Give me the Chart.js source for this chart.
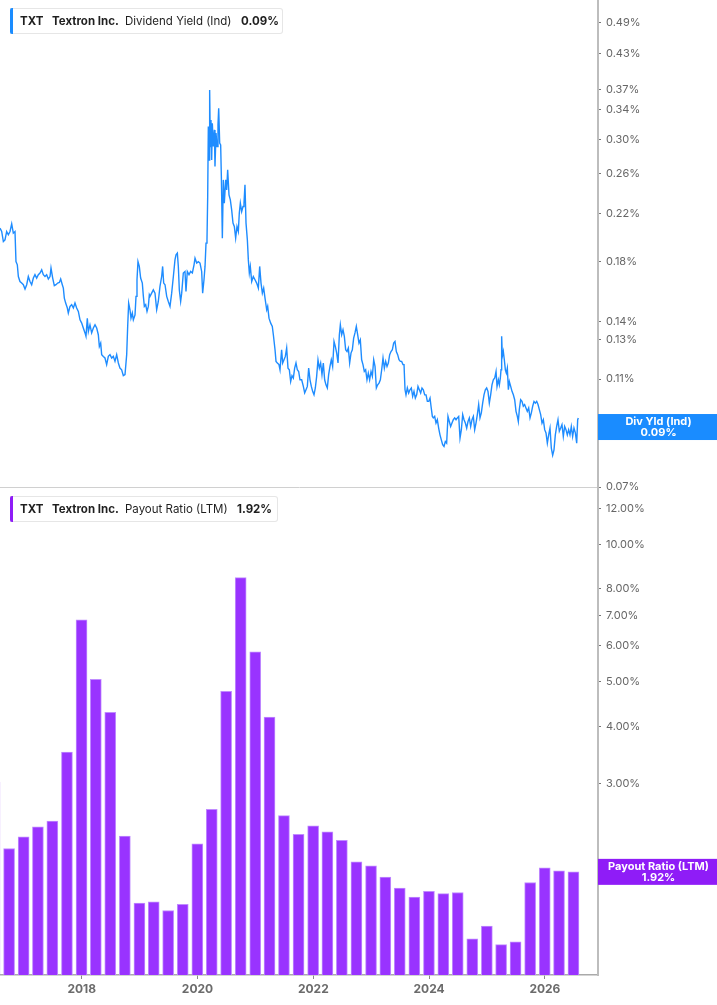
<!DOCTYPE html>
<html>
<head>
<meta charset="utf-8">
<script src="https://cdn.jsdelivr.net/npm/chart.js@4.4.1/dist/chart.umd.min.js"></script>
<style>
  body { margin: 0; background: #fff; width: 717px; height: 1005px; overflow: hidden; position: relative; font-family: Inter, 'Noto Sans', sans-serif; }
  #top { position: absolute; left: 0; top: 0; }
  #bottom { position: absolute; left: 0; top: 487px; }
  .legend { position: absolute; left: 10px; height: 24px; background: #fff; border: 1px solid #e6e6e6; border-left: none; border-radius: 0 3px 3px 0; font-size: 11.5px; color: #1f1f1f; }
  .legend .mark { position: absolute; left: 0; top: -1px; bottom: -1px; width: 3px; border-radius: 2px 0 0 2px; }
  .legend span { position: absolute; top: 5px; white-space: nowrap; line-height: 14px; }
  .legend b { font-weight: 700; }
</style>
</head>
<body>
<canvas id="top" width="717" height="490"></canvas>
<canvas id="bottom" width="717" height="518"></canvas>

<div class="legend" style="top:8px; width:272px;">
  <div class="mark" style="background:#1a8cff"></div>
  <span style="left:10px"><b>TXT</b></span>
  <span style="left:42px"><b>Textron Inc.</b></span>
  <span style="left:115px">Dividend Yield (Ind)</span>
  <span style="left:231px"><b>0.09%</b></span>
</div>
<div class="legend" style="top:496px; width:267px;">
  <div class="mark" style="background:#8f1cf7"></div>
  <span style="left:10px"><b>TXT</b></span>
  <span style="left:42px"><b>Textron Inc.</b></span>
  <span style="left:115px">Payout Ratio (LTM)</span>
  <span style="left:227px"><b>1.92%</b></span>
</div>

<script>
// x range shown (decimal years) and the year ticks
const X_MIN = 2016.589;
const X_MAX = 2026.917;
const yearTicks = [2018, 2020, 2022, 2024, 2026];

// dividend yield (%), dates as decimal years
const yieldDates = [
  2016.589,2016.618,2016.647,2016.675,2016.704,2016.733,2016.762,2016.791,2016.819,2016.848,
  2016.865,2016.888,2016.906,2016.934,2016.963,2016.992,2017.021,2017.050,2017.078,2017.107,
  2017.136,2017.165,2017.193,2017.222,2017.251,2017.280,2017.309,2017.337,2017.366,2017.395,
  2017.424,2017.453,2017.470,2017.499,2017.527,2017.556,2017.585,2017.614,2017.637,2017.665,
  2017.683,2017.700,2017.723,2017.752,2017.769,2017.798,2017.827,2017.856,2017.884,2017.913,
  2017.942,2017.971,2018.000,2018.028,2018.057,2018.074,2018.097,2018.115,2018.143,2018.172,
  2018.201,2018.230,2018.259,2018.287,2018.305,2018.328,2018.345,2018.374,2018.402,2018.431,
  2018.460,2018.489,2018.518,2018.546,2018.575,2018.604,2018.633,2018.661,2018.690,2018.719,
  2018.748,2018.777,2018.794,2018.811,2018.834,2018.851,2018.874,2018.892,2018.921,2018.938,
  2018.955,2018.972,2018.995,2019.018,2019.047,2019.065,2019.082,2019.105,2019.128,2019.151,
  2019.168,
  2019.180,2019.208,2019.237,2019.266,2019.295,2019.323,2019.352,2019.381,2019.398,2019.416,
  2019.439,2019.468,2019.496,2019.525,2019.554,2019.583,2019.611,2019.629,2019.652,2019.669,
  2019.686,2019.709,2019.727,2019.755,2019.784,2019.801,2019.824,2019.853,2019.882,2019.911,
  2019.940,2019.957,2019.986,2020.014,2020.043,2020.072,2020.089,2020.112,2020.130,2020.147,
  2020.164,2020.176,2020.187,2020.199,2020.210,2020.222,2020.233,2020.245,2020.256,2020.273,
  2020.291,2020.302,2020.320,2020.337,2020.354,2020.366,2020.383,2020.400,2020.412,2020.429,
  2020.446,2020.463,2020.487,2020.504,2020.521,2020.544,2020.567,2020.590,2020.613,2020.636,
  2020.659,2020.682,2020.705,2020.722,2020.740,2020.763,2020.786,2020.803,2020.820,2020.838,
  2020.861,2020.878,2020.895,2020.912,2020.936,2020.964,2020.993,2021.022,2021.051,2021.074,
  2021.097,2021.120,2021.143,2021.166,2021.195,2021.212,2021.235,
  2021.264,2021.292,2021.310,2021.339,2021.356,2021.379,2021.407,2021.425,2021.453,2021.471,
  2021.494,2021.517,2021.540,2021.563,2021.586,2021.609,2021.632,2021.655,2021.678,2021.701,
  2021.724,2021.747,2021.770,2021.799,2021.828,2021.851,2021.874,2021.897,2021.920,2021.943,
  2021.966,2021.989,2022.012,2022.035,2022.058,2022.081,2022.104,2022.127,2022.150,2022.173,
  2022.196,2022.219,2022.242,2022.265,2022.288,2022.311,2022.334,2022.358,2022.381,2022.404,
  2022.427,2022.450,2022.467,2022.490,2022.513,2022.536,2022.559,2022.582,2022.605,2022.628,
  2022.651,2022.674,2022.697,2022.720,2022.743,2022.766,2022.789,2022.812,2022.835,2022.858,
  2022.881,2022.904,2022.927,2022.950,2022.973,2022.997,2023.020,2023.043,2023.066,2023.089,
  2023.112,2023.135,2023.158,2023.181,2023.204,2023.227,2023.250,2023.273,2023.296,2023.319,
  2023.342,2023.365,2023.388,2023.411,2023.434,2023.457,2023.480,2023.503,2023.526,2023.549,
  2023.567,2023.584,2023.601,2023.624,2023.647,2023.670,2023.693,2023.716,2023.739,2023.762,
  2023.785,2023.808,2023.831,2023.854,2023.877,2023.900,2023.924,2023.947,2023.970,2023.993,2024.016,
  2024.033,2024.056,2024.073,2024.096,2024.119,2024.142,2024.165,2024.188,2024.211,2024.234,
  2024.257,2024.280,2024.303,2024.326,2024.349,2024.372,2024.395,2024.418,2024.442,2024.465,
  2024.488,2024.511,2024.534,2024.557,2024.580,2024.603,2024.626,2024.649,2024.672,2024.695,
  2024.718,2024.741,2024.764,2024.787,2024.810,2024.833,2024.856,2024.879,2024.902,2024.925,
  2024.948,2024.971,2024.994,2025.017,2025.040,2025.063,2025.086,2025.109,2025.133,2025.156,
  2025.173,2025.196,2025.213,2025.230,2025.242,2025.253,2025.265,2025.282,2025.299,2025.317,
  2025.334,2025.351,2025.369,2025.386,2025.409,2025.432,2025.455,2025.478,2025.501,2025.524,
  2025.541,2025.558,2025.581,2025.604,2025.627,2025.650,2025.673,2025.696,2025.720,2025.743,
  2025.766,2025.789,2025.812,2025.835,2025.858,2025.881,2025.904,2025.927,2025.950,2025.973,
  2025.996,2026.019,2026.042,2026.065,2026.088,2026.111,2026.134,2026.157,2026.180,2026.203,
  2026.226,2026.249,2026.272,2026.295,2026.318,2026.341,2026.364,2026.387,2026.410,2026.433,
  2026.456,2026.479,2026.502,2026.526,2026.549,2026.566,2026.577
];
const yieldValues = [
  0.2071,0.2042,0.1958,0.1972,0.2042,0.2014,0.2042,0.2109,0.2028,0.2042,
  0.1800,0.1776,0.1691,0.1656,0.1645,0.1634,0.1604,0.1634,0.1691,0.1656,
  0.1634,0.1680,0.1704,0.1680,0.1704,0.1716,0.1739,0.1704,0.1691,0.1704,
  0.1673,0.1691,0.1752,0.1680,0.1627,0.1634,0.1645,0.1649,0.1673,0.1634,
  0.1611,0.1545,0.1513,0.1482,0.1451,0.1492,0.1503,0.1482,0.1513,0.1482,
  0.1461,0.1410,0.1391,0.1363,0.1335,0.1316,0.1420,0.1343,0.1381,0.1335,
  0.1363,0.1381,0.1363,0.1325,0.1261,0.1279,0.1219,0.1210,0.1202,0.1169,
  0.1210,0.1219,0.1202,0.1210,0.1185,0.1219,0.1177,0.1152,0.1144,0.1116,
  0.1121,0.1219,0.1372,0.1513,0.1471,0.1420,0.1451,0.1410,0.1440,0.1556,
  0.1668,0.1800,0.1764,0.1680,0.1645,0.1556,0.1492,0.1503,0.1461,0.1492,
  0.1566,
  0.1556,0.1577,0.1599,0.1577,0.1471,0.1523,0.1622,0.1691,0.1764,0.1645,
  0.1634,0.1556,0.1523,0.1492,0.1577,0.1691,0.1813,0.1852,0.1865,0.1764,
  0.1599,0.1523,0.1577,0.1716,0.1727,0.1588,0.1727,0.1704,0.1727,0.1716,
  0.1776,0.1826,0.1789,0.1800,0.1789,0.1727,0.1577,0.1668,0.1764,0.1945,
  0.1972,0.2364,0.3170,0.2756,0.3695,0.2915,0.3259,0.2756,0.3215,0.2915,
  0.3126,0.2681,0.3084,0.2915,0.3193,0.3423,0.2957,0.2936,0.2571,0.1986,
  0.2535,0.2300,0.2535,0.2431,0.2644,0.2381,0.2331,0.2236,0.2115,0.2085,
  0.1986,0.2085,0.2042,0.2206,0.2300,0.2220,0.2267,0.2300,0.2483,0.2115,
  0.1972,0.1813,0.1716,0.1764,0.1656,0.1691,0.1668,0.1645,0.1611,0.1764,
  0.1645,0.1577,0.1611,0.1545,0.1471,0.1492,0.1420,
  0.1391,0.1372,0.1325,0.1244,0.1185,0.1177,0.1169,0.1144,0.1244,0.1177,
  0.1193,0.1210,0.1253,0.1152,0.1144,0.1089,0.1116,0.1105,0.1152,0.1177,
  0.1144,0.1136,0.1097,0.1097,0.1067,0.1038,0.1052,0.1067,0.1152,0.1097,
  0.1067,0.1045,0.1030,0.1060,0.1113,0.1193,0.1152,0.1177,0.1121,0.1177,
  0.1097,0.1074,0.1060,0.1121,0.1160,0.1193,0.1160,0.1288,0.1261,0.1227,
  0.1177,0.1325,0.1381,0.1325,0.1353,0.1316,0.1244,0.1235,0.1253,0.1177,
  0.1227,0.1244,0.1306,0.1335,0.1372,0.1325,0.1279,0.1297,0.1193,0.1169,
  0.1136,0.1144,0.1097,0.1128,0.1097,0.1136,0.1113,0.1193,0.1160,0.1060,
  0.1074,0.1082,0.1097,0.1144,0.1202,0.1152,0.1185,0.1160,0.1177,0.1219,
  0.1235,0.1244,0.1279,0.1288,0.1235,0.1219,0.1193,0.1185,0.1185,0.1169,
  0.1169,0.1052,0.1030,0.1060,0.1038,0.1052,0.1060,0.1023,0.1045,0.1016,
  0.1030,0.1067,0.1052,0.1038,0.1060,0.1052,0.1030,0.1030,0.1002,0.1002,0.1016,
  0.0982,0.0941,0.0935,0.0941,0.0915,0.0928,0.0896,0.0871,0.0853,0.0836,
  0.0830,0.0847,0.0841,0.0941,0.0921,0.0902,0.0915,0.0928,0.0935,0.0928,
  0.0935,0.0941,0.0859,0.0890,0.0948,0.0928,0.0915,0.0896,0.0921,0.0935,
  0.0902,0.0928,0.0941,0.0890,0.0915,0.0948,0.0989,0.0935,0.0955,0.0995,
  0.1030,0.1052,0.1060,0.1045,0.0995,0.1030,0.1074,0.1097,0.1105,0.1136,
  0.1067,0.1097,0.1074,0.1105,0.1144,0.1316,0.1210,0.1235,0.1193,0.1144,
  0.1128,0.1152,0.1052,0.1089,0.1067,0.1045,0.1030,0.1009,0.0961,0.0941,
  0.0921,0.0968,0.1009,0.1002,0.0982,0.0989,0.0975,0.0961,0.0975,0.0935,
  0.0955,0.0982,0.1002,0.0995,0.1002,0.0989,0.0968,0.0948,0.0915,0.0928,
  0.0890,0.0878,0.0841,0.0871,0.0896,0.0824,0.0800,0.0818,0.0871,0.0902,
  0.0928,0.0884,0.0896,0.0909,0.0865,0.0902,0.0890,0.0871,0.0890,0.0871,
  0.0902,0.0865,0.0896,0.0878,0.0841,0.0928,0.0935
];
const yieldTicks = [0.07, 0.09, 0.11, 0.13, 0.14, 0.18, 0.22, 0.26, 0.30, 0.34, 0.37, 0.43, 0.49];

// payout ratio (LTM, %), one bar per quarter end
const payoutDates = [
  '2016-06-30','2016-09-30','2016-12-31','2017-03-31','2017-06-30','2017-09-30','2017-12-31',
  '2018-03-31','2018-06-30','2018-09-30','2018-12-31','2019-03-31','2019-06-30','2019-09-30','2019-12-31',
  '2020-03-31','2020-06-30','2020-09-30','2020-12-31','2021-03-31','2021-06-30','2021-09-30','2021-12-31',
  '2022-03-31','2022-06-30','2022-09-30','2022-12-31','2023-03-31','2023-06-30','2023-09-30','2023-12-31',
  '2024-03-31','2024-06-30','2024-09-30','2024-12-31','2025-03-31','2025-06-30','2025-09-30','2025-12-31',
  '2026-03-31','2026-06-30'
];
const payoutValues = [
  3.02, 2.16, 2.29, 2.41, 2.48, 3.51, 6.84,
  5.07, 4.29, 2.30, 1.64, 1.65, 1.58, 1.63, 2.21,
  2.63, 4.77, 8.46, 5.82, 4.19, 2.55, 2.32, 2.42,
  2.35, 2.25, 2.02, 1.98, 1.87, 1.77, 1.69, 1.74,
  1.72, 1.73, 1.37, 1.46, 1.33, 1.35, 1.82, 1.96,
  1.93, 1.92
];
const payoutTicks = [3, 4, 5, 6, 7, 8, 10, 12];

function toYear(s) {
  const d = new Date(s + 'T00:00:00Z');
  const y = d.getUTCFullYear();
  const a = Date.UTC(y, 0, 1), b = Date.UTC(y + 1, 0, 1);
  return y + (d.getTime() - a) / (b - a);
}

const FONT = 'Inter, "Noto Sans", sans-serif';

// value tag on the right axis
const tagPlugin = {
  id: 'tag',
  afterDraw(chart, args, opts) {
    const ctx = chart.ctx, area = chart.chartArea;
    const y = chart.scales.y.getPixelForValue(opts.value);
    ctx.save();
    ctx.fillStyle = opts.color;
    ctx.fillRect(area.right, y - 13, chart.width - area.right, 26);
    ctx.fillStyle = '#fff';
    ctx.font = 'bold 11px ' + FONT;
    ctx.textAlign = 'center';
    ctx.textBaseline = 'middle';
    const cx = (area.right + chart.width) / 2 + 1;
    ctx.fillText(opts.title, cx, y - 5.5);
    ctx.fillText(opts.text, cx, y + 6);
    ctx.restore();
  }
};

function yAxis(min, max, ticks, digits) {
  return {
    type: 'logarithmic', position: 'right', min: min, max: max,
    afterBuildTicks: s => { s.ticks = ticks.map(v => ({ value: v })); },
    afterFit: s => { s.width = 119; s.paddingTop = 0; s.paddingBottom = 0; },
    border: { display: true, color: '#bdbdbd', width: 2 },
    grid: { drawOnChartArea: false, drawTicks: true, tickLength: 3, tickColor: '#777', tickWidth: 1 },
    ticks: {
      autoSkip: false, padding: 5, color: '#666',
      font: { family: FONT, size: 11 },
      callback: v => Number(v).toFixed(digits) + '%'
    }
  };
}

// top: dividend yield line
new Chart(document.getElementById('top'), {
  type: 'line',
  data: {
    datasets: [{
      data: yieldDates.map((d, i) => ({ x: d, y: yieldValues[i] })),
      borderColor: '#1e8cff',
      borderWidth: 1.4,
      pointRadius: 0,
      tension: 0
    }]
  },
  options: {
    responsive: false, animation: false, events: [],
    layout: { padding: 0 },
    plugins: {
      legend: { display: false }, tooltip: { enabled: false },
      tag: { value: 0.09, color: '#1a8cff', title: 'Div Yld (Ind)', text: '0.09%' }
    },
    scales: {
      x: {
        type: 'linear', min: X_MIN, max: X_MAX, offset: false,
        afterFit: s => { s.height = 3; s.paddingLeft = 0; s.paddingRight = 0; },
        ticks: { display: false },
        grid: { drawOnChartArea: false, drawTicks: false, offset: false },
        border: { display: true, color: '#d0d0d0', width: 1 }
      },
      y: yAxis(0.07, 0.5387, yieldTicks, 2)
    }
  },
  plugins: [tagPlugin]
});

// bottom: payout ratio bars
new Chart(document.getElementById('bottom'), {
  type: 'bar',
  data: {
    datasets: [{
      data: payoutDates.map((d, i) => ({ x: toYear(d), y: payoutValues[i] })),
      backgroundColor: '#9933ff',
      borderColor: '#c08cff',
      borderWidth: { top: 1, left: 1, right: 1, bottom: 0 },
      barThickness: 11
    }]
  },
  options: {
    responsive: false, animation: false, events: [],
    layout: { padding: 0 },
    plugins: {
      legend: { display: false }, tooltip: { enabled: false },
      tag: { value: 1.92, color: '#8f1cf7', title: 'Payout Ratio (LTM)', text: '1.92%' }
    },
    scales: {
      x: {
        type: 'linear', min: X_MIN, max: X_MAX, offset: false,
        afterBuildTicks: s => { s.ticks = yearTicks.map(v => ({ value: v })); },
        afterFit: s => { s.height = 30; s.paddingLeft = 0; s.paddingRight = 0; },
        border: { display: true, color: '#aaaaaa', width: 1.5 },
        grid: { drawOnChartArea: false, drawTicks: true, tickLength: 4, tickColor: '#888', tickWidth: 1, offset: false },
        ticks: {
          autoSkip: false, maxRotation: 0, padding: 3, color: '#6b6b6b',
          font: { family: FONT, size: 12, weight: 'bold' },
          callback: v => String(v)
        }
      },
      y: yAxis(1.1416, 13.36, payoutTicks, 2)
    }
  },
  plugins: [tagPlugin]
});
</script>
</body>
</html>
